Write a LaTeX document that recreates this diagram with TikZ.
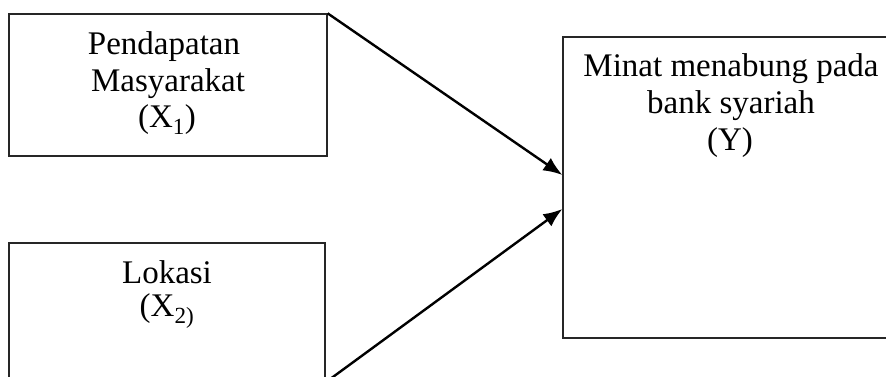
\documentclass[tikz,border=0pt]{standalone}
\usepackage{fontspec}
\setmainfont{Liberation Serif}
\usetikzlibrary{arrows.meta}
\tikzset{
  boxnode/.style={draw=black!85, line width=1.3pt, rectangle, inner sep=0pt},
  txt/.style={anchor=base, inner sep=0pt, font=\fontsize{33}{36}\selectfont},
  arr/.style={line width=2.4pt, -{Latex[length=19pt,width=15pt]}}
}
\begin{document}
\begin{tikzpicture}[x=1pt,y=-1pt]
\useasboundingbox (0,0) rectangle (886,377);
\clip (0,0) rectangle (886,377);
\fill[white] (0,0) rectangle (886,377);
% boxes
\node[boxnode, minimum width=318pt, minimum height=142pt] (b1) at (168,85) {};
\node[boxnode, minimum width=316pt, minimum height=170pt] (b2) at (167,328) {};
\node[boxnode, minimum width=337pt, minimum height=301pt] (y) at (731.5,187.5) {};
% texts
\node[txt] (t1a) at (164,55) {Pendapatan};
\node[txt] (t1b) at (168,92) {Masyarakat};
\node[txt] (t1c) at (167,128) {(X\textsubscript{1})};
\node[txt] (t2a) at (167,283) {Lokasi};
\node[txt] (t2b) at (167,316) {(X\textsubscript{2)}};
\node[txt] (tya) at (731,77) {Minat menabung pada};
\node[txt] (tyb) at (731,114) {bank syariah};
\node[txt] (tyc) at (730,150) {(Y)};
% connectors
\coordinate (tip1) at ([yshift=12.5pt]y.west);
\coordinate (tip2) at ([yshift=-21.5pt]y.west);
\coordinate (src2) at (301.5,400);
\draw[arr] (b1.north east) -- (tip1);
\draw[arr] (src2) -- (tip2);
\end{tikzpicture}
\end{document}
